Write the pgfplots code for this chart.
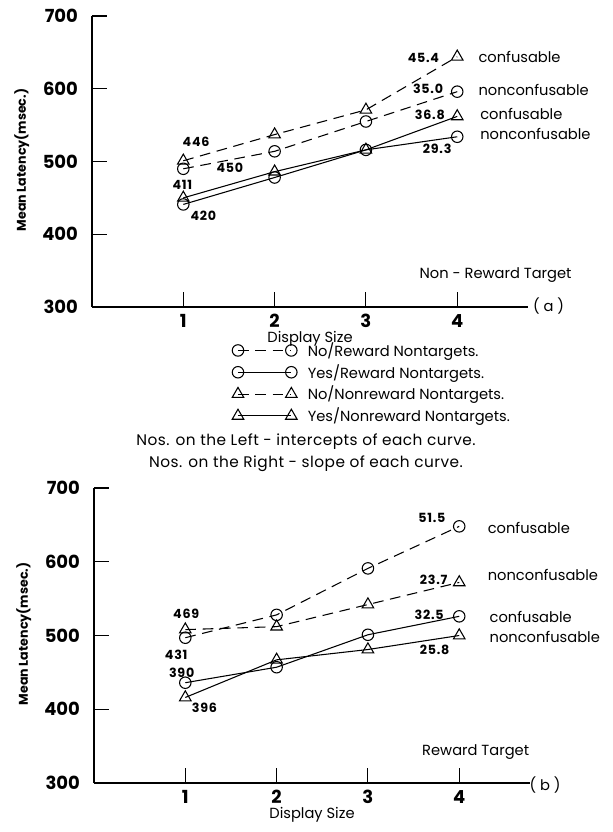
\documentclass[border=0pt]{standalone}
\usepackage{pgfplots}
\pgfplotsset{compat=1.18}
\usepackage{fontspec}
\setmainfont{Poppins}
\newfontfamily\spc[LetterSpace=6]{Poppins}
\newfontfamily\spcs[LetterSpace=3]{Poppins}
\tikzset{
  dsh/.style={dash pattern=on 8pt off 5pt},
  circ/.style={mark=o, mark size=4.3pt, mark options={solid, fill=white}},
  tri/.style={mark=triangle, mark size=5pt, mark options={solid, fill=white}},
  ann/.style={font=\spc\fontsize{9.5}{11}\selectfont\bfseries, inner sep=0pt},
  lab/.style={font=\fontsize{11}{12}\selectfont, inner sep=0pt, anchor=west},
}
\pgfplotsset{
  common/.style={
    scale only axis, width=327pt, clip=false,
    xmin=0, xmax=4.775, ymin=300, ymax=700,
    axis lines=left, axis line style={-, line width=0.8pt},
    xtick={1,2,3,4}, ytick={300,400,500,600,700},
    tick align=inside, major tick length=11pt,
    every tick/.style={black, line width=0.8pt},
    /pgf/number format/assume math mode=true,
    ticklabel style={font=\fontsize{13.5}{14}\selectfont\bfseries},
    xticklabel style={yshift=-2pt},
    yticklabel style={xshift=-7pt},
    xlabel={Display Size}, xlabel style={font=\fontsize{11}{12}\selectfont, yshift=4pt},
    ylabel={Mean Latency(msec.)},
    ylabel style={font=\fontsize{9.5}{12}\selectfont\bfseries, at={(ticklabel cs:0.505)}, yshift=3pt},
    every axis plot/.append style={black, line width=0.8pt},
    legend image code/.code={\draw[##1] plot coordinates {(0pt,0pt) (40pt,0pt)};},
  },
}
\begin{document}
\begin{tikzpicture}
% ---------- top panel (a)
\begin{axis}[common, at={(69pt,-230.25pt)}, anchor=south west, height=218.25pt,
  legend style={at={(0.321,-0.112)}, anchor=north west, draw=none, fill=none,
    font=\fontsize{11}{12}\selectfont, inner sep=0pt, row sep=0.5pt,
    /tikz/every odd column/.append style={column sep=6pt}},
  legend cell align=left]
\addplot[dsh, circ] coordinates {(1,490) (2,514) (3,555) (4,596)};
\addlegendentry{No/Reward Nontargets.}
\addplot[circ] coordinates {(1,441) (2,478) (3,516) (4,534)};
\addlegendentry{Yes/Reward Nontargets.}
\addplot[dsh, tri] coordinates {(1,501) (2,537) (3,571) (4,644)};
\addlegendentry{No/Nonreward Nontargets.}
\addplot[tri] coordinates {(1,450) (2,486) (3,516) (4,562)};
\addlegendentry{Yes/Nonreward Nontargets.}
\node[ann] at (axis cs:1.14,527) {446};
\node[ann] at (axis cs:1.51,492) {450};
\node[ann] at (axis cs:0.99,468) {411};
\node[ann] at (axis cs:1.22,425) {420};
\node[ann] at (axis cs:3.63,642) {45.4};
\node[ann] at (axis cs:3.68,600) {35.0};
\node[ann] at (axis cs:3.70,564) {36.8};
\node[ann] at (axis cs:3.78,517) {29.3};
\node[lab] at (axis cs:4.23,644) {confusable};
\node[lab] at (axis cs:4.23,598) {nonconfusable};
\node[lab] at (axis cs:4.25,565) {confusable};
\node[lab] at (axis cs:4.25,538) {nonconfusable};
\node[font=\fontsize{11}{12}\selectfont] at (axis cs:4.42,344) {Non - Reward Target};
\node[font=\fontsize{11}{12}\selectfont] at (axis cs:5.0,301) {( a )};
\end{axis}
% ---------- bottom panel (b)
\begin{axis}[common, at={(70.5pt,-587.25pt)}, anchor=south west, height=221.25pt]
\addplot[dsh, circ] coordinates {(1,497) (2,528) (3,591) (4,648)};
\addplot[circ] coordinates {(1,436) (2,457) (3,501) (4,526)};
\addplot[dsh, tri] coordinates {(1,508) (2,512) (3,542) (4,572)};
\addplot[tri] coordinates {(1,416) (2,467) (3,481) (4,500)};
\node[ann] at (axis cs:1.01,529) {469};
\node[ann] at (axis cs:0.90,474) {431};
\node[ann] at (axis cs:0.96,450) {390};
\node[ann] at (axis cs:1.21,402) {396};
\node[ann] at (axis cs:3.70,659) {51.5};
\node[ann] at (axis cs:3.72,575) {23.7};
\node[ann] at (axis cs:3.67,528) {32.5};
\node[ann] at (axis cs:3.73,480) {25.8};
\node[lab] at (axis cs:4.31,646) {confusable};
\node[lab] at (axis cs:4.31,582) {nonconfusable};
\node[lab] at (axis cs:4.33,525) {confusable};
\node[lab] at (axis cs:4.33,498) {nonconfusable};
\node[font=\fontsize{11}{12}\selectfont] at (axis cs:4.18,342) {Reward Target};
\node[font=\fontsize{11}{12}\selectfont] at (axis cs:4.94,297) {( b )};
\end{axis}
\node[font=\spcs\fontsize{11.5}{12}\selectfont] at (229.5pt,-331.5pt) {Nos. on the Left - intercepts of each curve.};
\node[font=\spcs\fontsize{11.5}{12}\selectfont] at (229.5pt,-348pt) {Nos. on the Right - slope of each curve.};
\pgfresetboundingbox
\useasboundingbox (0pt,0pt) rectangle (459pt,-624pt);
\end{tikzpicture}
\end{document}
